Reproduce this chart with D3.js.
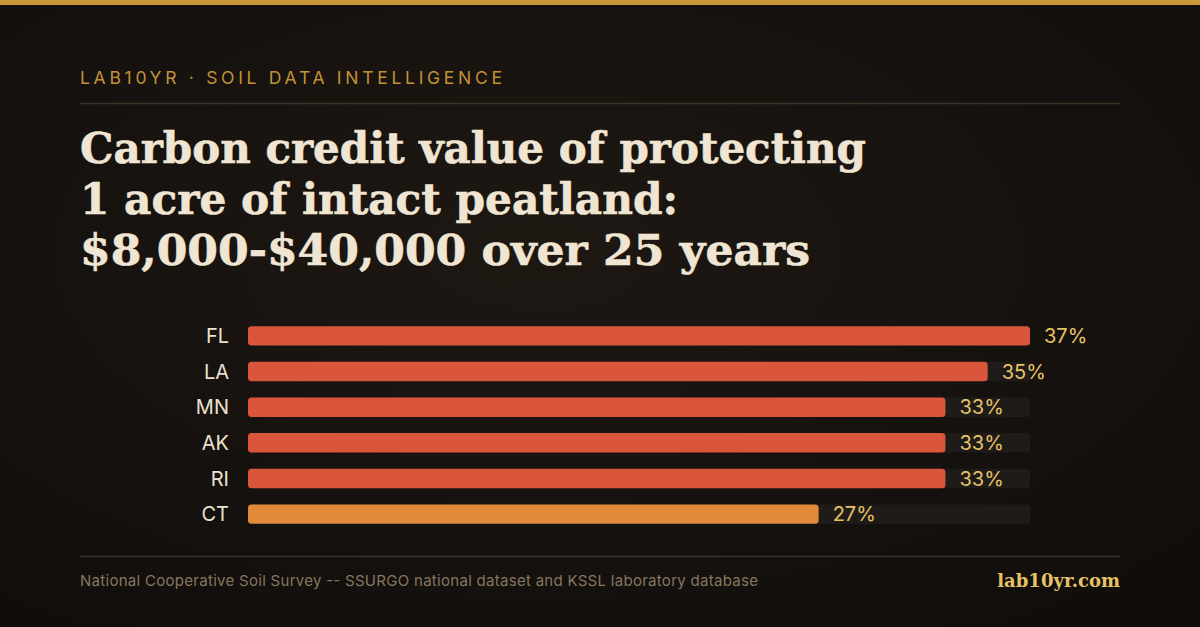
<!DOCTYPE html>
<html>
<head>
<meta charset="utf-8">
<script src="https://cdn.jsdelivr.net/npm/d3@7/dist/d3.min.js"></script>
<style>
  html, body { margin: 0; padding: 0; background: #14100d; }
  svg { display: block; }
</style>
</head>
<body>
<svg id="chart" width="1200" height="627"></svg>
<script>
const categories = ["FL", "LA", "MN", "AK", "RI", "CT"];
const values = [37, 35, 33, 33, 33, 27];
const valueLabels = ["37%", "35%", "33%", "33%", "33%", "27%"];
const barColors = ["#d9553b", "#d9553b", "#d9553b", "#d9553b", "#d9553b", "#e08a3a"];
const titleLines = [
  "Carbon credit value of protecting",
  "1 acre of intact peatland:",
  "$8,000-$40,000 over 25 years"
];
const kicker = "LAB10YR · SOIL DATA INTELLIGENCE";
const source = "National Cooperative Soil Survey -- SSURGO national dataset and KSSL laboratory database";
const site = "lab10yr.com";

const W = 1200, H = 627;
const svg = d3.select("#chart");
const defs = svg.append("defs");
const grad = defs.append("radialGradient").attr("id", "bg")
  .attr("cx", "45%").attr("cy", "40%").attr("r", "75%");
grad.append("stop").attr("offset", "0%").attr("stop-color", "#1e1813");
grad.append("stop").attr("offset", "100%").attr("stop-color", "#100d0b");
svg.append("rect").attr("width", W).attr("height", H).attr("fill", "url(#bg)");

// top accent bar
svg.append("rect").attr("x", 0).attr("y", 0).attr("width", W).attr("height", 5).attr("fill", "#c9963a");

// kicker
svg.append("text").attr("x", 80).attr("y", 84)
  .attr("font-family", "Inter, 'DejaVu Sans', sans-serif")
  .attr("font-size", 17.5).attr("letter-spacing", 3)
  .attr("textLength", 425).attr("lengthAdjust", "spacing")
  .attr("fill", "#c39238").text(kicker);

svg.append("line").attr("x1", 80).attr("x2", 1120).attr("y1", 103.5).attr("y2", 103.5)
  .attr("stroke", "#3b3124").attr("stroke-width", 1.5);

// title
const titleTargets = [786, 598, 730];
const tg = svg.append("g");
titleLines.forEach((t, i) => {
  tg.append("text").attr("x", 80).attr("y", 163 + i * 51)
    .attr("font-family", "'DejaVu Serif', serif").attr("font-weight", "bold")
    .attr("font-size", 42).attr("fill", "#f0e5d2")
    .attr("stroke", "#f0e5d2").attr("stroke-width", 0.6)
    .attr("textLength", titleTargets[i]).attr("lengthAdjust", "spacingAndGlyphs")
    .text(t);
});

// bars
const x = d3.scaleLinear().domain([0, d3.max(values)]).range([248, 1030]);
const y = d3.scaleBand().domain(categories).range([319, 531]).paddingInner(0.455).paddingOuter(0.2);

const rows = svg.append("g").selectAll("g").data(categories).join("g");
rows.append("rect")
  .attr("x", x(0)).attr("y", d => y(d)).attr("width", x.range()[1] - x(0))
  .attr("height", y.bandwidth()).attr("rx", 3.5).attr("fill", "#1f1b18");
rows.append("rect")
  .attr("x", x(0)).attr("y", d => y(d))
  .attr("width", (d, i) => x(values[i]) - x(0))
  .attr("height", y.bandwidth()).attr("rx", 3.5)
  .attr("fill", (d, i) => barColors[i]);
rows.append("text")
  .attr("x", 229).attr("y", d => y(d) + y.bandwidth() / 2)
  .attr("dy", "0.36em").attr("text-anchor", "end")
  .attr("font-family", "Inter, 'DejaVu Sans', sans-serif").attr("font-size", 20)
  .attr("fill", "#ece2cf").text(d => d);
rows.append("text")
  .attr("x", (d, i) => x(values[i]) + 14).attr("y", d => y(d) + y.bandwidth() / 2)
  .attr("dy", "0.36em")
  .attr("font-family", "Inter, 'DejaVu Sans', sans-serif").attr("font-size", 20)
  .attr("fill", "#e6c265").text((d, i) => valueLabels[i]);

// footer
svg.append("line").attr("x1", 80).attr("x2", 1120).attr("y1", 556.5).attr("y2", 556.5)
  .attr("stroke", "#3b3124").attr("stroke-width", 1.5);
svg.append("text").attr("x", 80).attr("y", 586)
  .attr("font-family", "Inter, 'DejaVu Sans', sans-serif").attr("font-size", 15)
  .attr("textLength", 678).attr("lengthAdjust", "spacing")
  .attr("fill", "#86775f").text(source);
svg.append("text").attr("x", 1120).attr("y", 587).attr("text-anchor", "end")
  .attr("font-family", "'DejaVu Serif', serif").attr("font-weight", "bold")
  .attr("font-size", 18).attr("fill", "#e6c265").text(site);
</script>
</body>
</html>
